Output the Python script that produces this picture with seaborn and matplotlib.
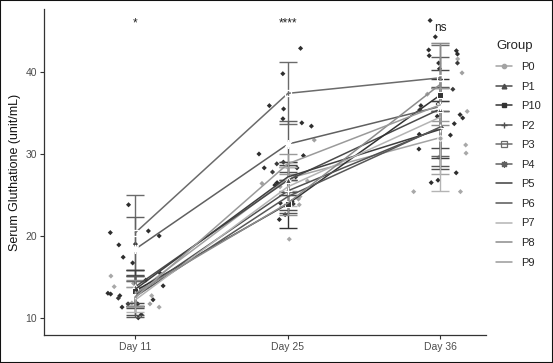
import numpy as np
import pandas as pd
import matplotlib
matplotlib.use("Agg")
import matplotlib.pyplot as plt
import seaborn as sns
from matplotlib.patches import Rectangle
from matplotlib.lines import Line2D

# ---------------- data ----------------
days = ["Day 11", "Day 25", "Day 36"]
groups = ["P0", "P1", "P10", "P2", "P3", "P4", "P5", "P6", "P7", "P8", "P9"]

mean_d11 = [13.0, 13.8, 13.3, 12.8, 20.4, 18.4, 13.5, 12.6, 12.2, 13.0, 12.5]
mean_d25 = [27.0, 26.8, 23.9, 25.5, 37.4, 31.2, 27.2, 24.8, 26.0, 24.0, 28.8]
mean_d36 = [32.0, 35.5, 37.2, 33.2, 39.3, 35.8, 33.0, 33.3, 34.5, 38.5, 36.0]

sd_d11 = [1.5, 2.0, 1.8, 2.4, 4.6, 3.9, 2.3, 2.5, 1.5, 1.6, 1.2]
sd_d25 = [2.0, 1.8, 2.9, 2.3, 3.8, 2.8, 1.8, 2.0, 2.4, 1.5, 1.2]
sd_d36 = [4.5, 4.8, 2.0, 5.0, 4.0, 6.0, 3.5, 4.8, 9.0, 5.0, 2.0]

# raw observations, three per group in the order of `groups`
raw_d11 = [15.1, 12.7, 11.8,  20.6, 13.9, 11.7,  13.5, 12.9, 11.3,  19.0, 14.6, 12.2,
           23.8, 20.4, 17.4,  20.0, 18.9, 16.7,  15.4, 13.0, 10.4,  14.9, 12.7, 10.0,
           11.3, 13.8, 12.8,  11.7, 13.8, 14.2,  12.4, 13.5, 11.7]
raw_d25 = [28.5, 26.0, 26.7,  29.8, 26.5, 24.2,  26.2, 22.6, 22.0,  28.3, 24.0, 23.7,
           42.9, 39.8, 33.4,  35.9, 33.8, 29.0,  35.5, 27.2, 25.4,  34.3, 30.0, 28.3,
           24.8, 19.6, 23.8,  31.7, 24.5, 26.4,  28.8, 23.9, 27.8]
raw_d36 = [35.2, 30.1, 25.4,  41.1, 34.8, 30.6,  42.0, 36.1, 33.7,  40.4, 32.4, 26.5,
           46.3, 42.7, 35.9,  44.3, 34.6, 27.7,  42.2, 33.2, 26.8,  42.6, 34.4, 32.3,
           41.6, 31.1, 25.4,  39.9, 37.3, 29.6,  41.1, 37.9, 35.4]

sig_labels = ["*", "****", "ns"]
sig_y = [45.9, 45.9, 45.4]

# ---------------- styles ----------------
line_colors = {"P0": "#a3a3a3", "P1": "#4a4a4a", "P10": "#333333", "P2": "#505050",
               "P3": "#6b6b6b", "P4": "#606060", "P5": "#3f3f3f", "P6": "#575757",
               "P7": "#b4b4b4", "P8": "#8c8c8c", "P9": "#9a9a9a"}
point_colors = {"P0": "#a8a8a8", "P1": "#2e2e2e", "P10": "#2e2e2e", "P2": "#2e2e2e",
                "P3": "#2e2e2e", "P4": "#2e2e2e", "P5": "#2e2e2e", "P6": "#2e2e2e",
                "P7": "#a8a8a8", "P8": "#a0a0a0", "P9": "#3a3a3a"}
marker_kw = {
    "P0": dict(marker="o", ms=3.8),
    "P1": dict(marker="^", ms=4.2),
    "P10": dict(marker="s", ms=4.2),
    "P2": dict(marker="+", ms=6, mew=1.0),
    "P3": dict(marker="s", ms=5, mfc="none", mew=0.9),
    "P4": dict(marker=(8, 2, 0), ms=6, mew=0.9),
    "P5": dict(marker="None"), "P6": dict(marker="None"), "P7": dict(marker="None"),
    "P8": dict(marker="None"), "P9": dict(marker="None"),
}

# ---------------- tables ----------------
n_rep = 3
raw_df = pd.DataFrame({
    "Day": np.repeat(days, len(groups) * n_rep),
    "Group": list(np.repeat(groups, n_rep)) * len(days),
    "Value": raw_d11 + raw_d25 + raw_d36,
})
mean_df = pd.DataFrame({
    "Day": np.repeat(days, len(groups)),
    "pos": np.repeat(np.arange(len(days)), len(groups)),
    "Group": groups * len(days),
    "Mean": mean_d11 + mean_d25 + mean_d36,
    "SD": sd_d11 + sd_d25 + sd_d36,
})

# ---------------- figure ----------------
sns.set_theme(style="white")
plt.rcParams["font.family"] = ["Liberation Sans", "DejaVu Sans"]

W, H = 553, 363
fig = plt.figure(figsize=(W / 100, H / 100), dpi=100)
ax = fig.add_axes([44 / W, 1 - 335 / H, (486 - 44) / W, (335 - 9) / H])

np.random.seed(7)
sns.stripplot(data=raw_df, x="Day", y="Value", hue="Group", order=days,
              hue_order=groups, palette=point_colors, jitter=0.19, size=2.6,
              marker="D", linewidth=0, legend=False, ax=ax, zorder=1)

for g in groups:
    sub = mean_df[mean_df["Group"] == g]
    ax.errorbar(sub["pos"], sub["Mean"], yerr=sub["SD"], fmt="none",
                ecolor=line_colors[g], elinewidth=1.0, capsize=6.8,
                capthick=1.0, zorder=2)

for g in groups:
    sub = mean_df[mean_df["Group"] == g]
    sns.lineplot(x=sub["pos"].to_numpy(), y=sub["Mean"].to_numpy(), ax=ax,
                 color=line_colors[g], lw=1.1, errorbar=None, legend=False,
                 sort=False, zorder=3, **marker_kw[g])

for i, (lab, yv) in enumerate(zip(sig_labels, sig_y)):
    ax.text(i, yv, lab, ha="center", va="center", fontsize=8.5, color="#222222")

ax.set_xlim(-0.6, 2.3)
ax.set_ylim(7.9, 47.7)
ax.set_xticks(range(len(days)))
ax.set_xticklabels(days)
ax.set_yticks([10, 20, 30, 40])
ax.set_xlabel("")
ax.set_ylabel("Serum Gluthatione (unit/mL)", fontsize=9, color="#111111", labelpad=3)
for s in ["top", "right"]:
    ax.spines[s].set_visible(False)
for s in ["left", "bottom"]:
    ax.spines[s].set_color("#333333")
    ax.spines[s].set_linewidth(0.9)
ax.tick_params(axis="both", length=3, width=0.8, color="#333333",
               labelsize=7.5, labelcolor="#4d4d4d", pad=2, bottom=True, left=True)

handles = [Line2D([0], [0], color=line_colors[g], lw=1.1, linestyle="-",
                  **{k: v for k, v in marker_kw[g].items()}) for g in groups]
fig.legend(handles, groups, title="Group", loc="upper left",
           bbox_to_anchor=(492 / W, 1 - 36 / H), frameon=False, fontsize=8,
           title_fontsize=9.5, handlelength=1.4, handletextpad=0.8,
           labelspacing=0.86, alignment="left", borderaxespad=0, markerscale=0.8)

fig.patches.append(Rectangle((0, 0), 1, 1, transform=fig.transFigure, fill=False,
                             edgecolor="#111111", lw=1.5, zorder=10))

fig.savefig("out.png", dpi=100, facecolor="white")
